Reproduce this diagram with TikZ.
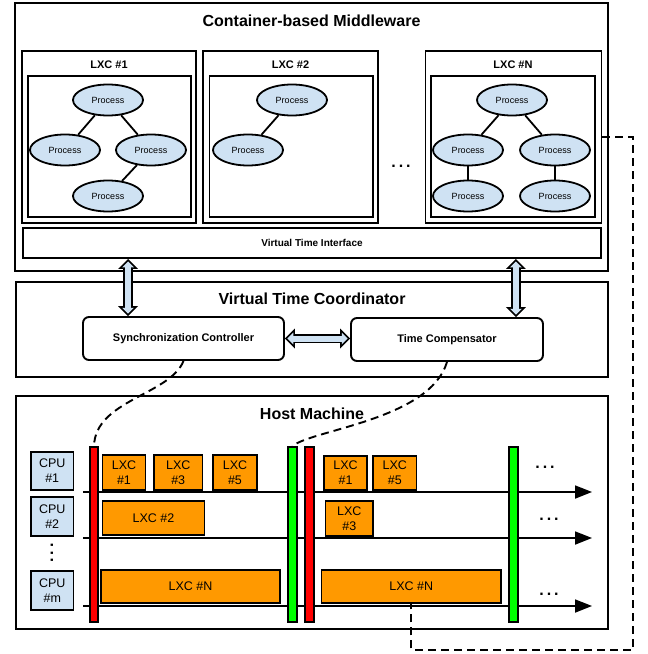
\documentclass[tikz,border=0pt]{standalone}
\usepackage{fontspec}
\setmainfont{Liberation Sans}
\usetikzlibrary{arrows.meta,calc,shapes.geometric}
\definecolor{lblue}{HTML}{CFE2F3}
\definecolor{lorange}{HTML}{FF9900}
\definecolor{bred}{HTML}{FF0000}
\definecolor{bgreen}{HTML}{00FF00}
\newcommand\mybox[7]{\node[#1, minimum width={(#4)-(#2)}, minimum height={(#5)-(#3)}] (#6) at ({((#2)+(#4))/2},{((#3)+(#5))/2}) {#7};}
\newcommand\dblarrow[2]{%
  \draw[black, line width=9.5pt, {Triangle[length=10pt,width=20pt,line width=0pt]}-{Triangle[length=10pt,width=20pt,line width=0pt]}] (#1) -- (#2);
  \draw[lblue, line width=6pt, {Triangle[length=5.8pt,width=11.6pt,line width=0pt]}-{Triangle[length=5.8pt,width=11.6pt,line width=0pt]}, shorten <=2.5pt, shorten >=2.5pt] (#1) -- (#2);}
\tikzset{
  box/.style={draw, line width=1.9pt, inner sep=0pt},
  rbox/.style={box, rounded corners=6pt, font=\fontsize{11}{13}\selectfont\bfseries},
  title/.style={font=\fontsize{16}{19}\selectfont\bfseries, inner sep=0pt},
  lxclab/.style={font=\fontsize{11}{13}\selectfont\bfseries, inner sep=0pt},
  proc/.style={ellipse, draw, line width=1.8pt, fill=lblue, minimum width=70pt, minimum height=31pt, inner sep=0pt, font=\fontsize{9}{10}\selectfont},
  conn/.style={line width=1.8pt},
  obox/.style={box, fill=lorange, align=center, font=\fontsize{12.5}{15}\selectfont},
  cpubox/.style={box, fill=lblue, align=center, font=\fontsize{12.5}{15}\selectfont},
  bar/.style={draw, line width=1.5pt, inner sep=0pt},
  tl/.style={line width=1.8pt, -{Triangle[length=17pt,width=13pt]}},
  dashline/.style={line width=1.9pt, dash pattern=on 8pt off 5pt},
  dots/.style={font=\fontsize{16}{16}\selectfont\bfseries, inner sep=0pt}
}
\begin{document}
\begin{tikzpicture}[x=1pt,y=-1pt]
\useasboundingbox (0,0) rectangle (648,654);
% ---------- Middleware ----------
\mybox{box}{15}{3}{608}{271}{mw}{}
\node[title] (mwt) at (311.5,21) {Container-based Middleware};
% LXC 1
\mybox{box}{22}{51}{196}{223}{c1}{}
\node[lxclab] (c1l) at (109,65) {LXC \#1};
\mybox{box}{28}{76}{191}{217}{c1i}{}
\node[proc] (p11) at (108,100) {Process};
\node[proc] (p12) at (65,150) {Process};
\node[proc] (p13) at (151,150) {Process};
\node[proc] (p14) at (108,196) {Process};
\draw[conn] (p11) -- (p12);
\draw[conn] (p11) -- (p13);
\draw[conn] (p13) -- (p14);
% LXC 2
\mybox{box}{203}{51}{378}{223}{c2}{}
\node[lxclab] (c2l) at (290.5,65) {LXC \#2};
\mybox{box}{209.5}{76}{373}{217}{c2i}{}
\node[proc] (p21) at (292,100) {Process};
\node[proc] (p22) at (248,150) {Process};
\draw[conn] (p21) -- (p22);
% dots
\node[dots] (mdots) at (401,166) {.\hspace{3pt}.\hspace{3pt}.};
% LXC N
\mybox{box}{425.5}{51}{601.5}{223}{cN}{}
\node[lxclab] (cNl) at (513,65) {LXC \#N};
\mybox{box}{431}{76}{595}{217}{cNi}{}
\node[proc] (pN1) at (512,100) {Process};
\node[proc] (pN2) at (468,150) {Process};
\node[proc] (pN3) at (555,150) {Process};
\node[proc] (pN4) at (468,196) {Process};
\node[proc] (pN5) at (555,196) {Process};
\draw[conn] (pN1) -- (pN2);
\draw[conn] (pN1) -- (pN3);
\draw[conn] (pN2) -- (pN4);
\draw[conn] (pN3) -- (pN5);
% VTI
\mybox{box, font=\fontsize{10}{12}\selectfont\bfseries}{23}{228}{601}{258}{vti}{Virtual Time Interface}
% ---------- Coordinator ----------
\mybox{box}{16}{282}{608}{377}{vtc}{}
\node[title] (vtct) at (312,299) {Virtual Time Coordinator};
\mybox{rbox}{83}{317}{284}{360}{sync}{Synchronization Controller}
\mybox{rbox}{351}{318}{543}{361}{tc}{Time Compensator}
\path (sync.north west) ++(46,0) coordinate (da1b);
\path (da1b |- vti.south) coordinate (da1a);
\path (tc.north east) ++(-28,0) coordinate (da2b);
\path (da2b |- vti.south) coordinate (da2a);
\dblarrow{da1a}{da1b}
\dblarrow{da2a}{da2b}
\path (sync.east -| tc.west) coordinate (da3b);
\dblarrow{sync.east}{da3b}
% ---------- Host ----------
\mybox{box}{16}{396}{608}{629}{host}{}
\node[title] (hostt) at (312,414) {Host Machine};
\mybox{cpubox}{31}{452}{73.5}{490}{cpu1}{CPU\\\#1}
\mybox{cpubox}{31}{497}{73.5}{536}{cpu2}{CPU\\\#2}
\mybox{cpubox}{31}{571}{73.5}{610}{cpum}{CPU\\\#m}
\node[dots, rotate=90] (vdots) at (52,553) {.\hspace{3pt}.\hspace{3pt}.};
% timelines
\coordinate (a1s) at (83,492); \coordinate (a1e) at (592,492);
\coordinate (a2s) at (83,538); \coordinate (a2e) at (592,538);
\coordinate (a3s) at (83,606); \coordinate (a3e) at (592,606);
\draw[tl] (a1s) -- (a1e);
\draw[tl] (a2s) -- (a2e);
\draw[tl] (a3s) -- (a3e);
% orange boxes
\mybox{obox}{102.5}{455}{145.5}{490}{h11}{LXC\\\#1}
\mybox{obox}{154}{455}{202.5}{490}{h13}{LXC\\\#3}
\mybox{obox}{213}{455}{257}{490}{h15}{LXC\\\#5}
\mybox{obox}{324}{456}{367}{490}{h21}{LXC\\\#1}
\mybox{obox}{373}{456}{416.5}{490}{h25}{LXC\\\#5}
\mybox{obox}{102.5}{501}{204.5}{535}{h12}{LXC \#2}
\mybox{obox}{325.5}{501}{373}{536}{h23}{LXC\\\#3}
\mybox{obox}{101}{570}{280}{603}{hN1}{LXC \#N}
\mybox{obox}{321.5}{570}{501}{603}{hN2}{LXC \#N}
% bars
\mybox{bar, fill=bred}{90}{447}{98}{622}{rb1}{}
\mybox{bar, fill=bgreen}{288}{447}{297}{622}{gb1}{}
\mybox{bar, fill=bred}{305}{447}{314}{622}{rb2}{}
\mybox{bar, fill=bgreen}{509}{447}{518}{622}{gb2}{}
% trailing dots
\node[dots] (t1) at (545,467) {.\hspace{3pt}.\hspace{3pt}.};
\node[dots] (t2) at (549,519) {.\hspace{3pt}.\hspace{3pt}.};
\node[dots] (t3) at (549,594) {.\hspace{3pt}.\hspace{3pt}.};
% dashed connectors
\draw[dashline] (sync.south) .. controls (170,395) and (95,400) .. (rb1.north);
\draw[dashline] (tc.south) .. controls (430,420) and (310,430) .. (gb1.north);
\coordinate (rc) at (633,650);
\draw[dashline] (cN.east) -| (rc) -| (hN2.south);
\end{tikzpicture}
\end{document}
